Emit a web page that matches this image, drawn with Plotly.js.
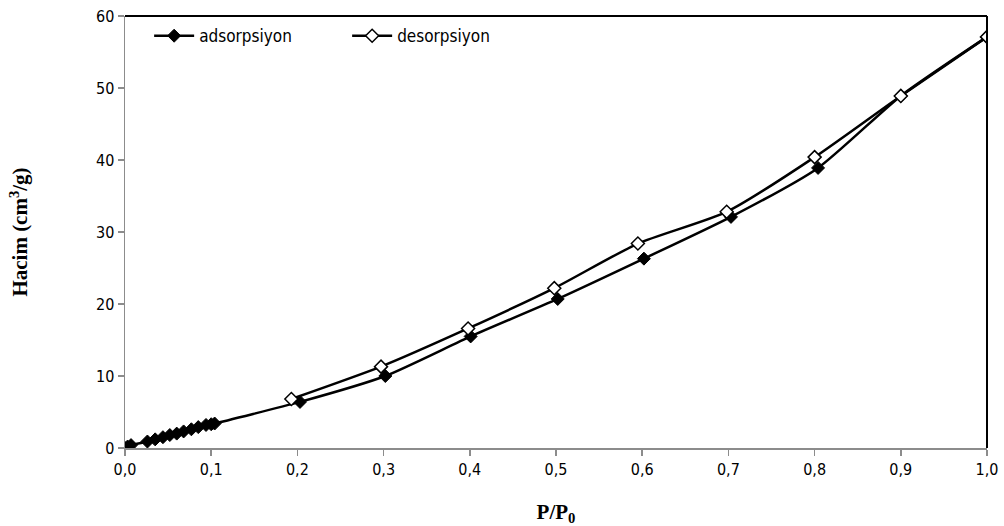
<!DOCTYPE html>
<html>
<head>
<meta charset="utf-8">
<script src="https://cdn.plot.ly/plotly-3.0.1.min.js"></script>
<style>
  html, body { margin: 0; padding: 0; background: #fff; }
  #chart { width: 1004px; height: 526px; }
</style>
</head>
<body>
<div id="chart"></div>
<script>
// Adsorption branch (relative pressure, volume in cm3/g)
const adsP = [0.0, 0.003, 0.007, 0.026, 0.035, 0.044, 0.052, 0.060, 0.068, 0.077, 0.085, 0.094, 0.100, 0.104,
              0.203, 0.302, 0.401, 0.502, 0.602, 0.703, 0.804, 0.900, 1.000];
const adsV = [0.0, 0.2, 0.4, 0.9, 1.2, 1.5, 1.8, 2.0, 2.3, 2.6, 2.9, 3.2, 3.3, 3.4,
              6.4, 10.0, 15.5, 20.7, 26.3, 32.1, 38.9, 48.9, 57.1];

// Desorption branch
const desP = [1.000, 0.900, 0.800, 0.698, 0.595, 0.498, 0.398, 0.297, 0.193];
const desV = [57.1, 48.9, 40.4, 32.8, 28.4, 22.2, 16.6, 11.3, 6.8];

const seriesNames = ['adsorpsiyon', 'desorpsiyon'];
const xTicks = [0, 0.1, 0.2, 0.3, 0.4, 0.5, 0.6, 0.7, 0.8, 0.9, 1.0];
const xTickText = ['0,0', '0,1', '0,2', '0,3', '0,4', '0,5', '0,6', '0,7', '0,8', '0,9', '1,0'];
const yTicks = [0, 10, 20, 30, 40, 50, 60];

const tickFont = { family: 'Liberation Sans Narrow, DejaVu Sans Condensed, Arial Narrow, sans-serif', size: 16, color: '#000' };
const titleFont = { family: 'Liberation Serif, Times New Roman, serif', size: 21, color: '#000', weight: 'bold' };

const traces = [
  {
    x: adsP, y: adsV, name: seriesNames[0],
    type: 'scatter', mode: 'lines+markers',
    line: { color: '#000', width: 2.5, shape: 'spline', smoothing: 0.6 },
    marker: { symbol: 'diamond', size: 10, color: '#000', line: { color: '#000', width: 1 } }
  },
  {
    x: desP, y: desV, name: seriesNames[1],
    type: 'scatter', mode: 'lines+markers',
    line: { color: '#000', width: 2.5, shape: 'spline', smoothing: 0.6 },
    marker: { symbol: 'diamond', size: 10, color: '#fff', line: { color: '#000', width: 1.5 } }
  }
];

const layout = {
  width: 1004, height: 526,
  margin: { l: 125, r: 17, t: 16, b: 78 },
  paper_bgcolor: '#fff', plot_bgcolor: '#fff',
  showlegend: true,
  legend: {
    orientation: 'h', x: 0.028, y: 0.995, xanchor: 'left', yanchor: 'top',
    font: { family: 'Liberation Sans Narrow, DejaVu Sans Condensed, sans-serif', size: 17, color: '#000' },
    bgcolor: 'rgba(0,0,0,0)', entrywidth: 143, entrywidthmode: 'pixels', itemwidth: 40
  },
  xaxis: {
    range: [0, 1.0], tickvals: xTicks, ticktext: xTickText,
    showgrid: false, zeroline: false,
    showline: true, linecolor: '#8c8c8c', linewidth: 1.5,
    ticks: 'outside', ticklen: 6, tickcolor: '#8c8c8c', tickwidth: 1.5,
    tickfont: tickFont,
    title: { text: 'P/P<sub>0</sub>', font: titleFont, standoff: 26 }
  },
  yaxis: {
    range: [0, 60], tickvals: yTicks,
    showgrid: false, zeroline: false,
    showline: true, linecolor: '#8c8c8c', linewidth: 1.5,
    ticks: 'outside', ticklen: 6, tickcolor: '#8c8c8c', tickwidth: 1.5,
    tickfont: tickFont,
    title: { text: 'Hacim (cm<sup>3</sup>/g)', font: titleFont, standoff: 62 }
  },
  shapes: [
    { type: 'line', xref: 'paper', yref: 'paper', x0: 0, x1: 1, y0: 1, y1: 1, line: { color: '#000', width: 2 } },
    { type: 'line', xref: 'paper', yref: 'paper', x0: 1, x1: 1, y0: 0, y1: 1, line: { color: '#000', width: 2 } }
  ]
};

Plotly.newPlot('chart', traces, layout, { displayModeBar: false, staticPlot: true });
</script>
</body>
</html>
